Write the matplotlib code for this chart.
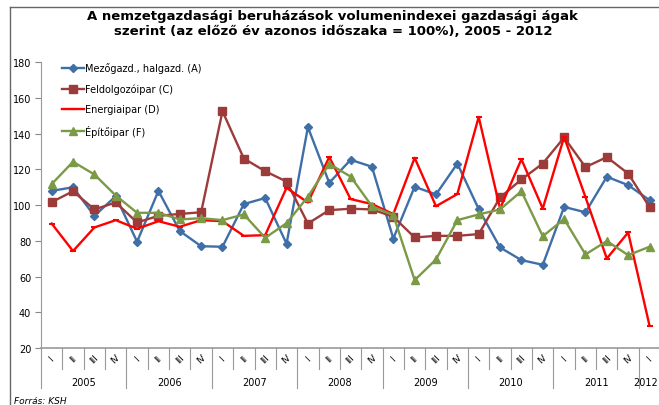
import matplotlib
matplotlib.use("Agg")
import matplotlib.pyplot as plt
import matplotlib.transforms as mtransforms
from matplotlib.lines import Line2D

# adatok (negyedéves volumenindexek, előző év azonos időszaka = 100%)
years = ['2005', '2006', '2007', '2008', '2009', '2010', '2011', '2012']
quarters = ['I', 'II', 'III', 'IV']
n_quarters = [4, 4, 4, 4, 4, 4, 4, 1]

mezogazd = [108, 110, 94, 105, 79.5, 108, 85.5, 77, 76.7, 100.6, 104, 78.4, 143.7, 112.5, 125.4,
            121.5, 81.3, 110.3, 106, 123.3, 97.8, 76.3, 69.2, 66.6, 99, 96, 115.9, 111.2, 102.8]
feldolg = [101.7, 107.8, 97.6, 101.5, 90.3, 94, 95.1, 96, 152.6, 126.1, 119, 113.2, 89.7, 97.2, 98,
           97.6, 93.5, 81.9, 82.8, 82.8, 83.8, 104.3, 114.4, 123.3, 137.9, 121.3, 126.9, 117.7, 98.9]
energia = [89.7, 74.3, 87.5, 91.6, 86.8, 91, 87.9, 91.6, 91, 82.8, 83.2, 109.7, 101.5, 127, 103.4,
           100.6, 95, 126.5, 99.4, 106.2, 149.4, 98, 125.7, 98.1, 138.2, 104.5, 70.1, 84.7, 32.5]
epitoipar = [111.8, 124.3, 117.2, 105.4, 95.7, 95.7, 92, 92.7, 91.6, 94.8, 81.7, 89.9, 104.7, 123.1, 116,
             99.4, 94.4, 58, 69.6, 91.6, 94.8, 97.6, 107.8, 82.6, 92.2, 72.4, 79.9, 72, 76.7]

labels = ['Mezőgazd., halgazd. (A)', 'Feldolgozóipar (C)', 'Energiaipar (D)', 'Építőipar (F)']

fig = plt.figure(figsize=(6.59, 4.06), dpi=100)
ax = fig.add_axes([41 / 659, 57 / 406, 619.2 / 659, 285.7 / 406])

x = list(range(len(mezogazd)))
ax.plot(x, mezogazd, color='#3F6FA8', lw=1.7, marker='D', ms=3.8, label=labels[0])
ax.plot(x, feldolg, color='#9C3C3A', lw=1.7, marker='s', ms=5.5, label=labels[1])
ax.plot(x, energia, color='#FF0000', lw=1.7, marker='_', ms=4, mew=1.5, label=labels[2])
ax.plot(x, epitoipar, color='#7B9A45', lw=1.7, marker='^', ms=5.5, label=labels[3])

ax.set_xlim(-0.5, len(x) - 0.5)
ax.set_ylim(20, 180)
ax.set_yticks(range(20, 181, 20))
ax.tick_params(axis='y', labelsize=7, length=4, color='#888888', pad=3)
ax.set_xticks([])
for s in ['top', 'right']:
    ax.spines[s].set_visible(False)
ax.spines['left'].set_color('#999999')
ax.spines['bottom'].set_color('#999999')
ax.spines['bottom'].set_linewidth(1.2)

# kategória tengely: negyedévek és évek
trans = mtransforms.blended_transform_factory(ax.transData, ax.transAxes)
pos = 0
for yr, n in zip(years, n_quarters):
    for q in range(n):
        ax.text(pos + q, -0.035, quarters[q], transform=trans, rotation=45,
                ha='center', va='center', fontsize=6.5)
        if q > 0:
            ax.add_line(Line2D([pos + q - 0.5] * 2, [0, -0.075], transform=trans,
                               color='#999999', lw=0.8, clip_on=False))
    ax.add_line(Line2D([pos - 0.5] * 2, [0, -0.14], transform=trans,
                       color='#999999', lw=0.8, clip_on=False))
    if n > 1:
        ax.text(pos + (n - 1) / 2, -0.118, yr, transform=trans,
                ha='center', va='center', fontsize=7)
    else:
        fig.text(658 / 659, 1 - 383 / 406, yr, ha='right', va='center', fontsize=7)
    pos += n

leg = ax.legend(loc='upper left', bbox_to_anchor=(0.02, 1.03), frameon=False,
                fontsize=7, handlelength=2.2, handletextpad=0.2, labelspacing=1.05)

fig.text(0.505, 1 - 10 / 406, 'A nemzetgazdasági beruházások volumenindexei gazdasági ágak\n'
         'szerint (az előző év azonos időszaka = 100%), 2005 - 2012',
         ha='center', va='top', fontsize=9.5, fontweight='bold', linespacing=1.2)

fig.text(14 / 659, 1 - 402 / 406, 'Forrás: KSH', fontsize=6.5, style='italic',
         ha='left', va='center')

# keret
fig.add_artist(Line2D([9.5 / 659, 9.5 / 659], [0, 1 - 8 / 406], transform=fig.transFigure,
                      color='#666666', lw=1))
fig.add_artist(Line2D([9.5 / 659, 1], [1 - 8 / 406, 1 - 8 / 406], transform=fig.transFigure,
                      color='#666666', lw=1))

fig.savefig('out.png', dpi=100)
